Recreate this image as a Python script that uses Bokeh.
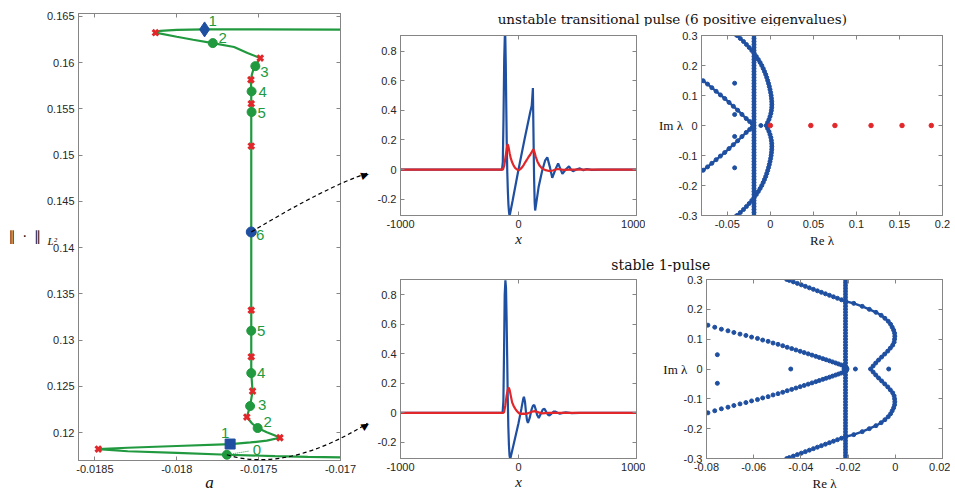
from bokeh.plotting import figure
from bokeh.layouts import row, column
from bokeh.models import (LinearAxis, FixedTicker, CustomJSTickFormatter, Label,
                          Range1d, ColumnDataSource)
from bokeh.embed import file_html
from bokeh.resources import INLINE
from bokeh.core.properties import value

# ------------------------------------------------------------------ data
# bifurcation branch: parameter a vs L2 norm (traced along the snake)
branch_a = [-0.0169, -0.0170, -0.0175, -0.01783, -0.0180, -0.0181, -0.01813,
            -0.0180, -0.0179, -0.01778, -0.01765, -0.017568, -0.01749,
            -0.017515, -0.01753, -0.01754, -0.017547, -0.017545, -0.017545, -0.017545,
            -0.017545, -0.017545, -0.017545, -0.017545, -0.017545,
            -0.017545, -0.017537, -0.017552, -0.017572, -0.01754, -0.017506, -0.01745,
            -0.0174, -0.01737,
            -0.01745, -0.01755, -0.01767, -0.0180, -0.0183, -0.01848,
            -0.0183, -0.0180, -0.01769, -0.0174, -0.0172, -0.0170, -0.0169]
branch_n = [0.16357, 0.16357, 0.16360, 0.16360, 0.16355, 0.16345, 0.16325,
            0.16281, 0.16248, 0.16212, 0.16170, 0.16104, 0.16050,
            0.15980, 0.15940, 0.15880, 0.15816, 0.15690, 0.15557, 0.15467,
            0.15099, 0.14170, 0.13325, 0.13102, 0.12821,
            0.12645, 0.12450, 0.12288, 0.12170, 0.12100, 0.12051, 0.12005,
            0.11970, 0.11946,
            0.11915, 0.11895, 0.11878, 0.11857, 0.11838, 0.11824,
            0.11800, 0.11782, 0.11762, 0.11748, 0.11740, 0.11733, 0.11730]
# fold points (red crosses)
fold_a = [-0.01813, -0.01749, -0.017547, -0.017545, -0.017545, -0.017545, -0.017545,
          -0.017537, -0.017572, -0.01737, -0.018479]
fold_n = [0.16325, 0.16050, 0.15816, 0.15557, 0.15099, 0.13325, 0.12821,
          0.12450, 0.12170, 0.11946, 0.11824]
# labelled solutions (green dots)
pts_a = [-0.01778, -0.01752, -0.017543, -0.017543, -0.017545, -0.017545, -0.017552, -0.017506, -0.017694]
pts_n = [0.16212, 0.15963, 0.15690, 0.15467, 0.13102, 0.12645, 0.12288, 0.12051, 0.11762]
pts_lab = ["2", "3", "4", "5", "5", "4", "3", "2", "0"]
# highlighted solutions (blue)
diam_a, diam_n = [-0.01783], [0.16360]
circ_a, circ_n = [-0.017545], [0.14170]
sq_a, sq_n = [-0.017674], [0.11878]

# profiles: unstable transitional pulse
u1_x = [-1000, -140, -133, -127, -121, -116, -112, -108, -104, -100, -95, -90, -85, -80, -76, -72,
        -50, 0, 50, 100, 112, 118, 122, 126, 132, 137, 141, 150, 170, 200, 225, 244, 265, 286, 310,
        336, 355, 372, 400, 428, 445, 462, 490, 520, 550, 580, 620, 700, 1000]
u1_y = [0, 0, 0.05, 0.35, 0.75, 0.90, 0.90, 0.72, 0.45, 0.20, -0.02, -0.15, -0.24, -0.29, -0.31, -0.30,
        -0.21, 0.0, 0.20, 0.39, 0.43, 0.50, 0.55, 0.30, -0.05, -0.22, -0.276, -0.23, -0.12, -0.01, 0.06,
        0.083, 0.02, -0.056, -0.005, 0.042, 0.005, -0.029, 0.0, 0.022, 0.0, -0.011, 0.0, 0.008,
        -0.004, 0.004, -0.002, 0, 0]
v1_x = [-1000, -140, -132, -120, -110, -100, -92, -85, -75, -65, -54, -40, -27, -10, 0, 15, 30, 45, 57,
        70, 85, 99, 112, 122, 128, 135, 145, 160, 180, 200, 230, 260, 290, 330, 380, 450, 1000]
v1_y = [0, 0, 0.0, 0.03, 0.085, 0.14, 0.172, 0.155, 0.11, 0.075, 0.049, 0.025, 0.01, 0.0, -0.006,
        0.003, 0.015, 0.032, 0.049, 0.065, 0.085, 0.10, 0.118, 0.132, 0.136, 0.12, 0.09, 0.055, 0.025,
        0.008, -0.004, -0.01, -0.006, 0.004, -0.002, 0, 0]
# profiles: stable 1-pulse
u2_x = [-1000, -135, -128, -122, -117, -111, -106, -101, -96, -91, -86, -81, -76, -71, -66, -40, 0,
        25, 40, 46, 55, 64, 72, 80, 95, 110, 122, 134, 145, 158, 172, 190, 206, 220, 236, 250, 262,
        280, 296, 310, 330, 350, 375, 400, 450, 520, 1000]
u2_y = [0, 0, 0.08, 0.45, 0.80, 0.90, 0.85, 0.65, 0.38, 0.10, -0.10, -0.22, -0.29, -0.31, -0.30,
        -0.21, -0.07, 0.03, 0.095, 0.109, 0.075, 0.0, -0.05, -0.069, -0.035, 0.02, 0.048, 0.053,
        0.025, -0.015, -0.035, -0.005, 0.022, 0.027, 0.005, -0.013, -0.018, -0.005, 0.008, 0.009,
        0.0, -0.006, 0.0, 0.004, -0.002, 0, 0]
v2_x = [-1000, -130, -122, -112, -100, -90, -82, -75, -65, -54, -40, -27, -12, 2, 20, 40, 65, 90,
        115, 141, 170, 200, 250, 1000]
v2_y = [0, 0, 0.005, 0.05, 0.12, 0.16, 0.172, 0.155, 0.115, 0.071, 0.045, 0.027, 0.01, -0.002,
        -0.007, -0.006, -0.007, 0.0, 0.008, 0.011, 0.003, -0.004, 0.0, 0]

# spectra
col_im = [-0.30, -0.29, -0.28, -0.27, -0.26, -0.25, -0.24, -0.23, -0.22, -0.21, -0.20, -0.19, -0.18,
          -0.17, -0.16, -0.15, -0.14, -0.13, -0.12, -0.11, -0.10, -0.09, -0.08, -0.07, -0.06, -0.05,
          -0.04, -0.03, -0.02, -0.01, 0.00, 0.01, 0.02, 0.03, 0.04, 0.05, 0.06, 0.07, 0.08, 0.09,
          0.10, 0.11, 0.12, 0.13, 0.14, 0.15, 0.16, 0.17, 0.18, 0.19, 0.20, 0.21, 0.22, 0.23, 0.24,
          0.25, 0.26, 0.27, 0.28, 0.29, 0.30]
col1_re = -0.019
col2_re = -0.0211
# unstable pulse: upper half of the essential-spectrum curve
c1_im = [0.000, 0.010, 0.020, 0.030, 0.040, 0.050, 0.060, 0.070, 0.080, 0.090, 0.100, 0.110, 0.120,
         0.130, 0.140, 0.150, 0.160, 0.170, 0.180, 0.190, 0.200, 0.210, 0.220, 0.230, 0.240, 0.250,
         0.260, 0.270, 0.280, 0.290, 0.300, 0.305]
c1_re = [-0.0049, -0.0032, -0.0016, -0.0004, 0.0006, 0.0012, 0.0016, 0.0017, 0.0016, 0.0013, 0.0009,
         0.0003, -0.0004, -0.0012, -0.0021, -0.0031, -0.0042, -0.0054, -0.0068, -0.0083, -0.0100,
         -0.0119, -0.0140, -0.0163, -0.0188, -0.0216, -0.0246, -0.0278, -0.0312, -0.0349, -0.0388,
         -0.0410]
arm1_re = [-0.083, -0.078, -0.073, -0.068, -0.063, -0.058, -0.053, -0.048, -0.043, -0.038, -0.033,
           -0.028, -0.024, -0.021, -0.0195]
arm1_im = [0.160, 0.149, 0.138, 0.126, 0.114, 0.102, 0.090, 0.077, 0.064, 0.051, 0.037, 0.023,
           0.013, 0.006, 0.002]
iso1_re = [-0.0415, -0.0415, -0.0415, -0.0415, -0.011]
iso1_im = [0.141, 0.0365, -0.0365, -0.141, 0.0]
pos1_re = [0.0, 0.047, 0.075, 0.117, 0.153, 0.187]
pos1_im = [0.0, 0.0, 0.0, 0.0, 0.0, 0.0]
# stable pulse
c2_im = [0.000, 0.010, 0.020, 0.030, 0.040, 0.050, 0.060, 0.070, 0.080, 0.090, 0.100, 0.110, 0.120,
         0.130, 0.140, 0.150, 0.160, 0.170, 0.180, 0.190, 0.200, 0.210, 0.220, 0.227]
c2_re = [-0.0105, -0.0094, -0.0083, -0.0071, -0.0058, -0.0045, -0.0032, -0.0021, -0.0011, -0.0005,
         -0.0003, -0.0002, -0.0003, -0.0007, -0.0013, -0.0020, -0.0030, -0.0044, -0.0060, -0.0082,
         -0.0110, -0.0140, -0.0176, -0.0211]
c2s_re = [-0.0228, -0.0245, -0.0262, -0.0279, -0.0296, -0.0313, -0.0330, -0.0347, -0.0364, -0.0381,
          -0.0398, -0.0415, -0.0432, -0.0449, -0.0460]
c2s_im = [0.232, 0.237, 0.242, 0.247, 0.252, 0.257, 0.262, 0.267, 0.272, 0.277, 0.282, 0.287, 0.292,
          0.297, 0.300]
arm2_re = [-0.0794, -0.0765, -0.0737, -0.0709, -0.0684, -0.0658, -0.0633, -0.0609, -0.0584, -0.0562,
           -0.0539, -0.0518, -0.0497, -0.0477, -0.0458, -0.0439, -0.0421, -0.0403, -0.0386, -0.0369,
           -0.0353, -0.0337, -0.0322, -0.0307, -0.0293, -0.0279, -0.0266, -0.0253, -0.0241, -0.0229,
           -0.0218, -0.0212]
arm2_im = [0.147, 0.140, 0.1335, 0.128, 0.1224, 0.117, 0.1125, 0.107, 0.1025, 0.097, 0.0927, 0.087,
           0.0827, 0.078, 0.0728, 0.0683, 0.0638, 0.0593, 0.0550, 0.0507, 0.0466, 0.0425, 0.0386,
           0.0347, 0.0310, 0.0273, 0.0238, 0.0203, 0.0170, 0.0137, 0.0105, 0.006]
iso2_re = [-0.0754, -0.0754, -0.0443, -0.0169, -0.0028]
iso2_im = [0.048, -0.048, 0.0, 0.0, 0.0]
ctr2_re, ctr2_im = [-0.0211], [0.0]

# tick values
L_xticks = [-0.0185, -0.018, -0.0175, -0.017]
L_yticks = [0.12, 0.125, 0.13, 0.135, 0.14, 0.145, 0.15, 0.155, 0.16, 0.165]
M_xticks = [-1000, 0, 1000]
M_yticks = [-0.2, 0, 0.2, 0.4, 0.6, 0.8]
R1_xticks = [-0.05, 0, 0.05, 0.1, 0.15, 0.2]
R2_xticks = [-0.08, -0.06, -0.04, -0.02, 0, 0.02]
R_yticks = [-0.3, -0.2, -0.1, 0, 0.1, 0.2, 0.3]

# ------------------------------------------------------------------ style
BLUE = "#1f4fa0"
RED = "#e2272b"
GREEN = "#21993f"
AX = "#858585"
TXT = "#262626"
LABC = "#111111"
SANS = "Liberation Sans"
SERIF = "Liberation Serif"

FMT = "return String(Math.round(tick*1e6)/1e6);"


def style(p, xt, yt):
    """MATLAB-like boxed axes; returns the (bottom, left) axes."""
    p.toolbar_location = None
    p.xgrid.visible = False
    p.ygrid.visible = False
    p.outline_line_color = AX
    p.outline_line_width = 1
    p.background_fill_color = "white"
    p.border_fill_color = "white"
    bx = p.below[0]
    ly = p.left[0]
    bx.ticker = FixedTicker(ticks=xt)
    ly.ticker = FixedTicker(ticks=yt)
    for ax in (bx, ly):
        ax.formatter = CustomJSTickFormatter(code=FMT)
        ax.axis_line_color = AX
        ax.major_tick_line_color = AX
        ax.minor_tick_line_color = None
        ax.major_tick_in = 4
        ax.major_tick_out = 0
        ax.major_label_text_font = SANS
        ax.major_label_text_font_size = "11px"
        ax.major_label_text_color = TXT
        ax.major_label_standoff = 4
        ax.axis_label_standoff = 1
        ax.axis_label_text_color = LABC
        ax.axis_label_text_font = SERIF
        ax.axis_label_text_font_style = "normal"
    for loc, tk in (("right", yt), ("above", xt)):
        ax = LinearAxis(ticker=FixedTicker(ticks=tk), formatter=CustomJSTickFormatter(code="return '';"),
                        axis_line_color=AX, major_tick_line_color=AX, minor_tick_line_color=None,
                        major_tick_in=4, major_tick_out=0, major_label_text_font_size="0px",
                        major_label_standoff=0)
        p.add_layout(ax, loc)
    return bx, ly


def fig(w, h, xr, yr, l, r, t, b):
    return figure(width=w, height=h, x_range=Range1d(*xr), y_range=Range1d(*yr),
                  output_backend="svg", toolbar_location=None,
                  min_border_left=l, min_border_right=r, min_border_top=t, min_border_bottom=b)


def free_text(p, x, y, text, size, font=SERIF, style_="normal", color=LABC, align="center",
              baseline="middle", angle=0.0):
    # text drawn at overlay level so that it may sit outside the plot frame
    p.text(x=[x], y=[y], text=[text], angle=angle, text_font=value(font), text_font_size=size,
           text_font_style=style_, text_color=color, text_align=align, text_baseline=baseline,
           level="overlay")


# ------------------------------------------------------------------ left: bifurcation diagram
L = fig(374, 493, (-0.0186, -0.017), (0.117, 0.16532), 78, 34, 13, 33)
Lbx, Lly = style(L, L_xticks, L_yticks)

L.line(branch_a, branch_n, line_color=GREEN, line_width=2.2)
# dotted leader to label "0"
L.segment(x0=[pts_a[-1]], y0=[pts_n[-1]], x1=[pts_a[-1] + 0.000135], y1=[pts_n[-1] + 0.0004],
          line_color=GREEN, line_width=1, line_dash="1 1")
L.scatter(fold_a, fold_n, marker="x", size=8, line_color=RED, line_width=3)
L.scatter(pts_a, pts_n, marker="circle", size=9, fill_color=GREEN, line_color=GREEN)
L.scatter(diam_a, diam_n, marker="diamond", size=15, fill_color=BLUE, line_color=BLUE)
L.scatter(circ_a, circ_n, marker="circle", size=10, fill_color=BLUE, line_color=BLUE)
L.scatter(sq_a, sq_n, marker="square", size=10, fill_color=BLUE, line_color=BLUE)

lab_dx = [10, 9, 11, 10, 10, 10, 12, 10, 30]
lab_dy = [-5, 6, 1, 1, 0, 0, -1, -6, -5]
lab_src = ColumnDataSource(dict(
    x=pts_a + diam_a + circ_a + sq_a, y=pts_n + diam_n + circ_n + sq_n,
    t=pts_lab + ["1", "6", "1"], dx=lab_dx + [8, 9, -5], dy=lab_dy + [-8, 3, -11]))
L.text(x="x", y="y", text="t", x_offset="dx", y_offset="dy", source=lab_src,
       text_color=GREEN, text_font=value(SANS), text_font_size="15px",
       text_align="center", text_baseline="middle")

# axis labels (placed like the original: horizontal y label, italic a)
free_text(L, -0.019027, 0.14122, "∥\u2002·\u2002∥", "14px", font="DejaVu Sans", align="left",
          baseline="alphabetic")
free_text(L, -0.018789, 0.14078, "L²", "11px", style_="italic", align="left", baseline="alphabetic")
free_text(L, -0.0178, 0.11463, "a", "17px", style_="italic")

# dashed pointer arrows to the profile panels
L.quadratic(x0=[circ_a[0]], y0=[circ_n[0]], x1=[-0.016835], y1=[0.14806], cx=[-0.017085], cy=[0.14661],
            line_color="black", line_width=1.2, line_dash="4 3", level="overlay")
L.bezier(x0=[pts_a[-1]], y0=[pts_n[-1]], x1=[-0.016835], y1=[0.12102], cx0=[-0.017428], cy0=[0.11614],
         cx1=[-0.017122], cy1=[0.11787], line_color="black", line_width=1.2, line_dash="4 3",
         level="overlay")
free_text(L, -0.016830, 0.14808, "▶", "10px", font="DejaVu Sans", color="black", align="right",
          angle=0.32)
free_text(L, -0.016830, 0.12106, "▶", "10px", font="DejaVu Sans", color="black", align="right",
          angle=0.56)


# ------------------------------------------------------------------ middle: profiles
def profile(h, t, b, ux, uy, vx, vy):
    p = fig(271, h, (-1000, 1000), (-0.31, 0.905), 23, 9, t, b)
    bx, ly = style(p, M_xticks, M_yticks)
    bx.axis_label = "x"
    bx.axis_label_text_font_style = "italic"
    bx.axis_label_text_font_size = "15px"
    bx.axis_label_standoff = 0
    p.line(ux, uy, line_color=BLUE, line_width=2.2)
    p.line(vx, vy, line_color=RED, line_width=2.2)
    return p


M1 = profile(224, 8, 35, u1_x, u1_y, v1_x, v1_y)
M2 = profile(221, 7, 32, u2_x, u2_y, v2_x, v2_y)


# ------------------------------------------------------------------ right: spectra
def spec(h, xr, xt, l, t, b, im_x):
    p = fig(305, h, xr, (-0.3, 0.3), l, 8, t, b)
    bx, ly = style(p, xt, R_yticks)
    bx.axis_label = "Re λ"
    bx.axis_label_text_font_size = "13px"
    bx.axis_label_standoff = 2
    free_text(p, im_x, 0.0, "Im λ", "13px")
    return p


def dense(p, re, im, size=4):
    p.line(re, im, line_color=BLUE, line_width=2.4)
    p.scatter(re, im, marker="circle", size=size, fill_color=BLUE, line_color=BLUE)


def dots(p, re, im, color=BLUE, size=4):
    p.scatter(re, im, marker="circle", size=size, fill_color=color, line_color=color)


R1 = spec(224, (-0.08, 0.2), R1_xticks, 56, 9, 33, -0.1155)
c1_full_re = c1_re[::-1][:-1] + c1_re
c1_full_im = [-v for v in c1_im[::-1]][:-1] + c1_im
dense(R1, [col1_re] * len(col_im), col_im)
dense(R1, c1_full_re, c1_full_im)
dense(R1, arm1_re, arm1_im)
dense(R1, arm1_re, [-v for v in arm1_im])
dots(R1, iso1_re, iso1_im)
dots(R1, pos1_re, pos1_im, color=RED, size=4.5)

R2 = spec(221, (-0.08, 0.02), R2_xticks, 61, 7, 32, -0.0932)
c2_full_re = c2_re[::-1][:-1] + c2_re
c2_full_im = [-v for v in c2_im[::-1]][:-1] + c2_im
dense(R2, [col2_re] * len(col_im), col_im)
dense(R2, c2_full_re, c2_full_im)
dots(R2, c2s_re + c2s_re, c2s_im + [-v for v in c2s_im])
dots(R2, arm2_re + arm2_re, arm2_im + [-v for v in arm2_im])
dots(R2, iso2_re, iso2_im)
dots(R2, ctr2_re, ctr2_im, size=7)


# ------------------------------------------------------------------ titles
def title_fig(h, text, x, y, size):
    p = figure(width=576, height=h, x_range=Range1d(0, 1), y_range=Range1d(0, 1),
               output_backend="svg", toolbar_location=None, x_axis_type=None, y_axis_type=None,
               min_border_left=0, min_border_right=0, min_border_top=0, min_border_bottom=0)
    p.outline_line_color = None
    p.xgrid.visible = False
    p.ygrid.visible = False
    p.add_layout(Label(x=x, y=y, text=text, text_font="DejaVu Serif", text_font_size=size,
                       text_color=LABC, text_align="center", text_baseline="alphabetic"))
    return p


T1 = title_fig(26, "unstable transitional pulse (6 positive eigenvalues)", 0.517, 0.29, "13.5px")
T2 = title_fig(22, "stable 1-pulse", 0.497, 0.32, "14px")

layout = row(L, column(T1, row(M1, R1), T2, row(M2, R2)))
open("out.html", "w").write(file_html(layout, INLINE))
